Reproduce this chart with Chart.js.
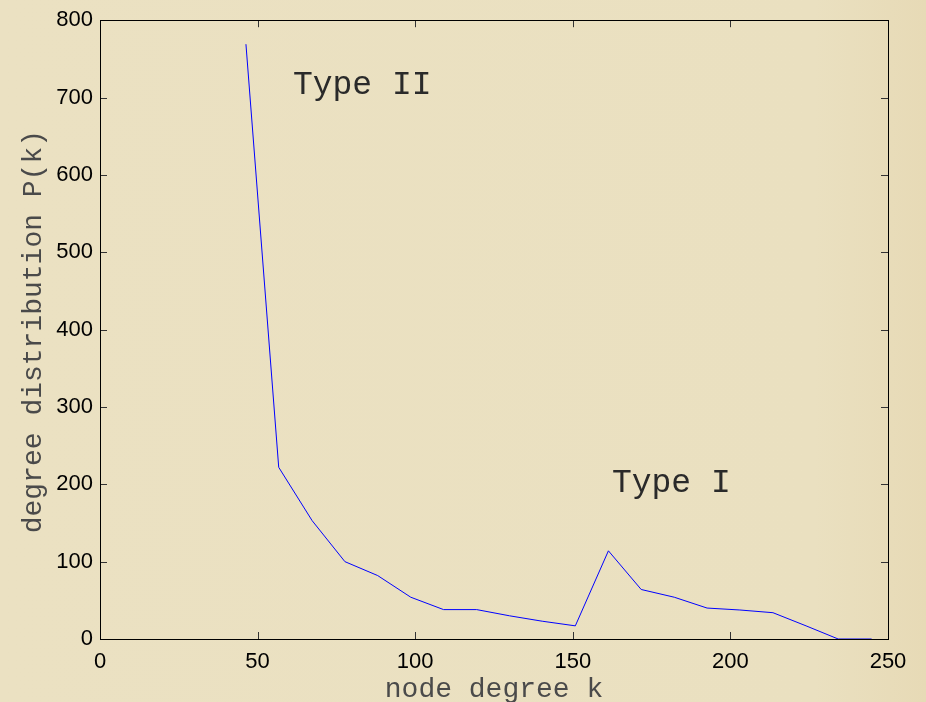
<!DOCTYPE html>
<html>
<head>
<meta charset="utf-8">
<script src="https://cdn.jsdelivr.net/npm/chart.js@4.4.1/dist/chart.umd.min.js"></script>
<style>
  html, body { margin: 0; padding: 0; }
  body {
    width: 926px; height: 702px; overflow: hidden;
    background: linear-gradient(to right, #ebe1c2 0%, #eae0c0 88%, #e7dab6 100%);
  }
  #wrap { position: relative; width: 926px; height: 702px; }
</style>
</head>
<body>
<div id="wrap"><canvas id="c" width="926" height="702"></canvas></div>
<script>
// ---- data ----
const degreeK = [46.3, 56.7, 67.3, 77.7, 88.1, 98.6, 109.0, 119.5, 129.9, 140.3,
                 150.8, 161.3, 171.7, 182.2, 192.6, 203.0, 213.5, 224.0, 234.2, 244.8];
const Pk      = [769, 222, 153, 100, 82, 54, 38, 38, 30, 23,
                 17, 114, 64, 54, 40, 37.5, 34, 17, 0, 0];
const xTicks = [0, 50, 100, 150, 200, 250];
const yTicks = [0, 100, 200, 300, 400, 500, 600, 700, 800];
const xTitle = 'node degree k';
const yTitle = 'degree distribution P(k)';
const notes  = ['Type II', 'Type I'];
const noteX  = [61.2, 162.4];
const noteY  = [704, 190];

const points = degreeK.map((k, i) => ({ x: k, y: Pk[i] }));

const framePlugin = {
  id: 'frame',
  afterDraw(chart) {
    const { ctx, chartArea: a, scales: { x, y } } = chart;
    ctx.save();
    // inward ticks on all four sides
    ctx.strokeStyle = '#333';
    ctx.lineWidth = 1;
    const tl = 7;
    ctx.beginPath();
    xTicks.forEach(v => {
      const px = Math.round(x.getPixelForValue(v)) + 0.5;
      ctx.moveTo(px, a.bottom); ctx.lineTo(px, a.bottom - tl);
      ctx.moveTo(px, a.top); ctx.lineTo(px, a.top + tl);
    });
    yTicks.forEach(v => {
      const py = Math.round(y.getPixelForValue(v)) + 0.5;
      ctx.moveTo(a.left, py); ctx.lineTo(a.left + tl, py);
      ctx.moveTo(a.right, py); ctx.lineTo(a.right - tl, py);
    });
    ctx.stroke();
    // box
    ctx.strokeStyle = '#000';
    ctx.strokeRect(Math.round(a.left) + 0.5, Math.round(a.top) + 0.5,
                   Math.round(a.right - a.left), Math.round(a.bottom - a.top));
    // annotations
    ctx.fillStyle = '#2a2a2a';
    ctx.font = '33px "Liberation Mono", "DejaVu Sans Mono", monospace';
    ctx.textAlign = 'left';
    ctx.textBaseline = 'alphabetic';
    notes.forEach((t, i) => {
      ctx.fillText(t, x.getPixelForValue(noteX[i]), y.getPixelForValue(noteY[i]));
    });
    // axis titles
    ctx.fillStyle = '#4a4a4a';
    ctx.font = '28px "Liberation Mono", "DejaVu Sans Mono", monospace';
    ctx.textAlign = 'center';
    ctx.fillText(xTitle, (a.left + a.right) / 2, 697);
    ctx.translate(41, (a.top + a.bottom) / 2 + 2);
    ctx.rotate(-Math.PI / 2);
    ctx.fillText(yTitle, 0, 0);
    ctx.restore();
  }
};

new Chart(document.getElementById('c'), {
  type: 'line',
  data: {
    datasets: [{
      data: points,
      borderColor: '#0000ff',
      borderWidth: 1,
      pointRadius: 0,
      tension: 0,
      fill: false
    }]
  },
  options: {
    responsive: false,
    animation: false,
    layout: { padding: { top: 18, right: 38, left: 0, bottom: 0 } },
    plugins: { legend: { display: false }, tooltip: { enabled: false } },
    scales: {
      x: {
        type: 'linear', min: 0, max: 250,
        afterBuildTicks: s => { s.ticks = xTicks.map(v => ({ value: v })); },
        afterFit: s => { s.height = 63; },
        grid: { display: false, drawTicks: false },
        border: { display: false },
        ticks: { color: '#000', padding: 10, maxRotation: 0,
                 font: { family: '"Liberation Sans", Arial, sans-serif', size: 22 } }
      },
      y: {
        type: 'linear', min: 0, max: 800,
        afterBuildTicks: s => { s.ticks = yTicks.map(v => ({ value: v })); },
        afterFit: s => { s.width = 100; },
        grid: { display: false, drawTicks: false },
        border: { display: false },
        ticks: { color: '#000', padding: 7,
                 font: { family: '"Liberation Sans", Arial, sans-serif', size: 22 } }
      }
    }
  },
  plugins: [framePlugin]
});
</script>
</body>
</html>
